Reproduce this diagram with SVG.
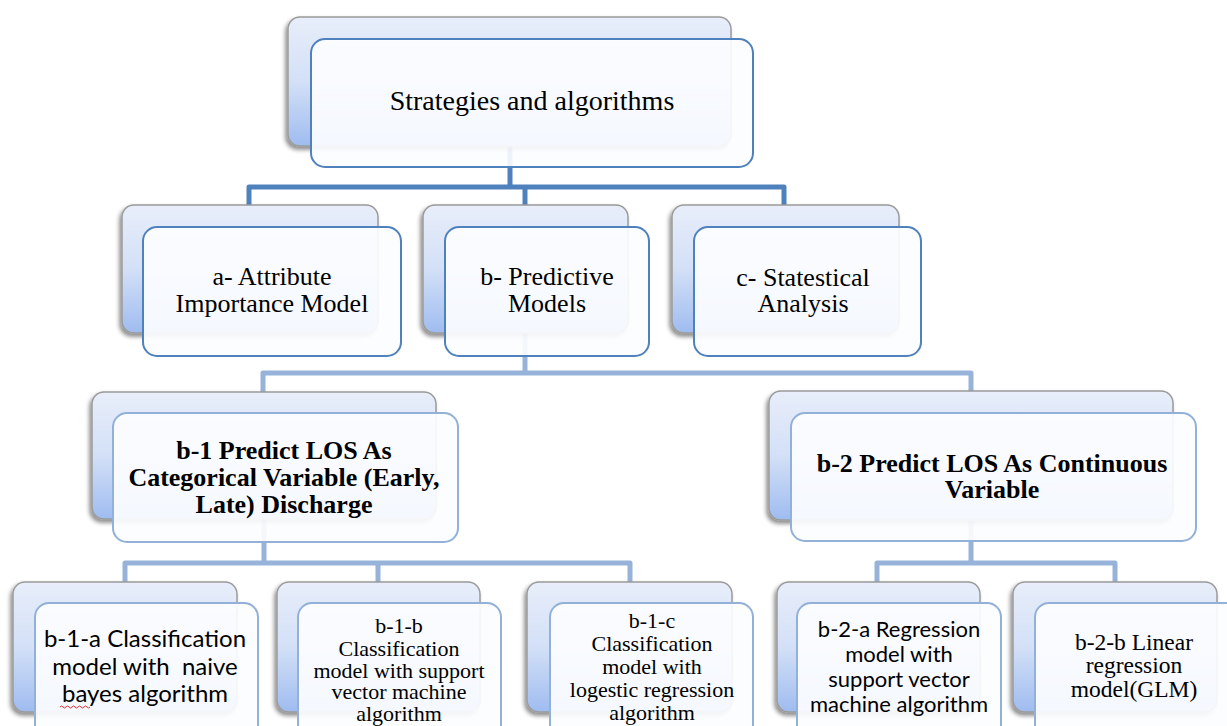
<svg xmlns="http://www.w3.org/2000/svg" width="1227" height="726" viewBox="0 0 1227 726">
<defs>
<linearGradient id="bg" x1="0" y1="0" x2="0" y2="1">
<stop offset="0" stop-color="#e8eefa"/>
<stop offset="0.5" stop-color="#d3e0f7"/>
<stop offset="1" stop-color="#9fbcf0"/>
</linearGradient>
<filter id="sh" x="-10%" y="-10%" width="120%" height="130%">
<feDropShadow dx="-2" dy="3" stdDeviation="2" flood-color="#000" flood-opacity="0.45"/>
</filter>
<style>
.back{fill:url(#bg);stroke:#9a9a9a;stroke-width:1.5;filter:url(#sh)}
.f1{fill:#fcfdff;fill-opacity:0.92;stroke:#4f81bd;stroke-width:2}
.f2{fill:#fcfdff;fill-opacity:0.92;stroke:#93b0d8;stroke-width:2}
.c1{fill:none;stroke:#4f81bd;stroke-width:5;stroke-linejoin:round}
.c2{fill:none;stroke:#98b3d9;stroke-width:5;stroke-linejoin:round}
.serif{font-family:"Liberation Serif","Times New Roman",serif;fill:#000;text-anchor:middle}
.sans{font-family:Lato,"Liberation Sans",sans-serif;fill:#000;text-anchor:middle;white-space:pre}
.t0{font-size:28px}
.t1{font-size:26px}
.t2{font-size:26px;font-weight:bold}
.t3{font-size:22px}
</style>
</defs>
<rect width="1227" height="726" fill="#fff"/>
<g id="connectors">
<path class="c1" d="M510 100 V187 M249 205 V187 H784 V205 M525 187 V205"/>
<path class="c2" d="M525 300 V373 M263 392 V373 H971 V391"/>
<path class="c2" d="M264 500 V563 M125 582 V563 H630 V582 M378 563 V582"/>
<path class="c2" d="M971 500 V563 M877 582 V563 H1115 V582"/>
</g>
<g id="root">
<rect class="back" x="288" y="17" width="443" height="129" rx="12"/>
<rect class="f1" x="311" y="39" width="442" height="128" rx="14"/>
<text class="serif t0" x="532" y="110">Strategies and algorithms</text>
</g>
<g id="a">
<rect class="back" x="122" y="205" width="256" height="128" rx="12"/>
<rect class="f1" x="143" y="227" width="258" height="129" rx="14"/>
<text class="serif t1" x="272" y="285">a- Attribute</text>
<text class="serif t1" x="272" y="312">Importance Model</text>
</g>
<g id="b">
<rect class="back" x="423" y="205" width="205" height="128" rx="12"/>
<rect class="f1" x="445" y="227" width="204" height="129" rx="14"/>
<text class="serif t1" x="547" y="285">b- Predictive</text>
<text class="serif t1" x="547" y="312">Models</text>
</g>
<g id="c">
<rect class="back" x="672" y="205" width="227" height="128" rx="12"/>
<rect class="f1" x="694" y="227" width="227" height="129" rx="14"/>
<text class="serif t1" x="803" y="286">c- Statestical</text>
<text class="serif t1" x="803" y="312">Analysis</text>
</g>
<g id="b1">
<rect class="back" x="92" y="392" width="344" height="127" rx="12"/>
<rect class="f2" x="113" y="413" width="345" height="129" rx="14"/>
<text class="serif t2" x="284" y="459">b-1 Predict LOS As</text>
<text class="serif t2" x="284" y="486">Categorical Variable (Early,</text>
<text class="serif t2" x="284" y="513">Late) Discharge</text>
</g>
<g id="b2">
<rect class="back" x="769" y="391" width="404" height="129" rx="12"/>
<rect class="f2" x="791" y="413" width="405" height="128" rx="14"/>
<text class="serif t2" x="992" y="472">b-2 Predict LOS As Continuous</text>
<text class="serif t2" x="992" y="498">Variable</text>
</g>
<g id="b1a">
<rect class="back" x="13" y="582" width="224" height="130" rx="12"/>
<rect class="f2" x="35" y="603" width="223" height="140" rx="14"/>
<text class="sans" x="145" y="647" font-size="24">b-1-a Classification</text>
<text class="sans" x="145" y="675" font-size="24">model with  naive</text>
<text class="sans" x="145" y="702" font-size="24">bayes algorithm</text>
<path d="M60 707 q1.5 -2 3 0 t3 0 t3 0 t3 0 t3 0 t3 0 t3 0 t3 0 t3 0 t3 0" fill="none" stroke="#e03030" stroke-width="1"/>
</g>
<g id="b1b">
<rect class="back" x="277" y="582" width="203" height="130" rx="12"/>
<rect class="f2" x="298" y="603" width="203" height="140" rx="14"/>
<text class="serif t3" x="399" y="633">b-1-b</text>
<text class="serif t3" x="399" y="656">Classification</text>
<text class="serif t3" x="399" y="678">model with support</text>
<text class="serif t3" x="399" y="699">vector machine</text>
<text class="serif t3" x="399" y="721">algorithm</text>
</g>
<g id="b1c">
<rect class="back" x="527" y="582" width="205" height="130" rx="12"/>
<rect class="f2" x="550" y="603" width="203" height="140" rx="14"/>
<text class="serif t3" x="652" y="628">b-1-c</text>
<text class="serif t3" x="652" y="651">Classification</text>
<text class="serif t3" x="652" y="674">model with</text>
<text class="serif t3" x="652" y="697">logestic regression</text>
<text class="serif t3" x="652" y="720">algorithm</text>
</g>
<g id="b2a">
<rect class="back" x="777" y="582" width="203" height="130" rx="12"/>
<rect class="f2" x="797" y="603" width="204" height="140" rx="14"/>
<text class="sans" x="899" y="637" font-size="22">b-2-a Regression</text>
<text class="sans" x="899" y="662" font-size="22">model with</text>
<text class="sans" x="899" y="687" font-size="22">support vector</text>
<text class="sans" x="899" y="712" font-size="22">machine algorithm</text>
</g>
<g id="b2b">
<rect class="back" x="1013" y="582" width="204" height="130" rx="12"/>
<rect class="f2" x="1035" y="603" width="220" height="140" rx="14"/>
<text class="serif" x="1134" y="650" font-size="23.5">b-2-b Linear</text>
<text class="serif" x="1134" y="673" font-size="23.5">regression</text>
<text class="serif" x="1134" y="697" font-size="23.5">model(GLM)</text>
</g>
</svg>
